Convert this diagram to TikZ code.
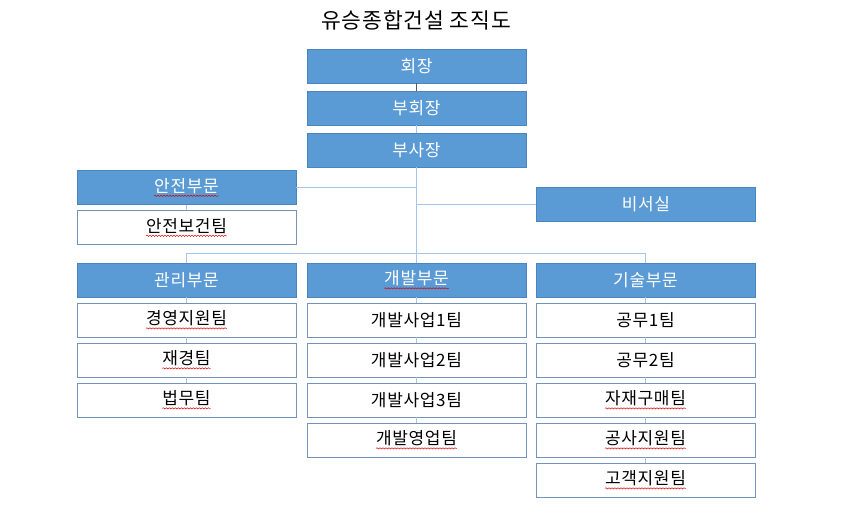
\documentclass[tikz,border=0pt]{standalone}
\usepackage{fontspec}
\setmainfont[LetterSpace=4]{Noto Sans CJK KR}
\usetikzlibrary{decorations.pathmorphing}
\definecolor{boxblue}{HTML}{5B9BD5}
\definecolor{boxedge}{HTML}{4A85C0}
\definecolor{teamedge}{HTML}{7393B8}
\definecolor{linkblue}{HTML}{A7C5E8}
\definecolor{linkgray}{HTML}{5A5A5A}
\newcommand{\sqg}[1]{\tikz[baseline=(sqgtxt.base)]{\node[draw=none,fill=none,inner sep=0pt,outer sep=0pt,minimum width=0pt,minimum height=0pt] (sqgtxt) {#1};
  \draw[red!85!black,line width=0.5pt,decorate,decoration={snake,segment length=3pt,amplitude=0.6pt}] ([yshift=-3.5pt]sqgtxt.base west) -- ([yshift=-3.5pt]sqgtxt.base east);}}
\begin{document}
\begin{tikzpicture}[x=1pt,y=-1pt,
  headbox/.style={draw=boxedge,line width=0.8pt,fill=boxblue,text=white,minimum width=219pt,minimum height=34pt,inner sep=0pt,font=\fontsize{17}{20}\selectfont},
  teambox/.style={draw=teamedge,line width=0.8pt,fill=white,text=black,minimum width=219pt,minimum height=34pt,inner sep=0pt,font=\fontsize{17}{20}\selectfont},
  link/.style={draw=linkblue,line width=0.9pt},
  darklink/.style={draw=linkgray,line width=0.9pt}]
\useasboundingbox (0,0) rectangle (860,516);
\node[font=\fontsize{21.5}{25}\selectfont] (title) at (416,20) {유승종합건설 조직도};
% top chain
\node[headbox] (hoejang) at (416.5,66) {회장};
\node[headbox] (buhoejang) at (416.5,108) {부회장};
\node[headbox] (busajang) at (416.5,150) {부사장};
% safety
\node[headbox] (anjeon) at (186.5,187.5) {\sqg{안전부문}};
\node[teambox] (anjeonbogeon) at (186.5,227.5) {\sqg{안전보건팀}};
% secretary
\node[headbox] (biseo) at (646,204) {비서실};
% divisions
\node[headbox] (gwanri) at (186.5,280) {관리부문};
\node[headbox] (gaebal) at (416.5,280) {\sqg{개발부문}};
\node[headbox] (gisul) at (645.5,280) {기술부문};
% management teams
\node[teambox] (gw1) at (186.5,320) {\sqg{경영지원팀}};
\node[teambox] (gw2) at (186.5,360) {\sqg{재경팀}};
\node[teambox] (gw3) at (186.5,400) {\sqg{법무팀}};
% development teams
\node[teambox] (gb1) at (416.5,320) {개발사업1팀};
\node[teambox] (gb2) at (416.5,360) {개발사업2팀};
\node[teambox] (gb3) at (416.5,400) {개발사업3팀};
\node[teambox] (gb4) at (416.5,440) {\sqg{개발영업팀}};
% tech teams
\node[teambox] (gs1) at (645.5,320) {공무1팀};
\node[teambox] (gs2) at (645.5,360) {공무2팀};
\node[teambox] (gs3) at (645.5,400) {\sqg{자재구매팀}};
\node[teambox] (gs4) at (645.5,440) {\sqg{공사지원팀}};
\node[teambox] (gs5) at (645.5,480) {\sqg{고객지원팀}};
% connectors
\draw[darklink] (hoejang.south) -- (buhoejang.north);
\draw[link] (buhoejang.south) -- (busajang.north);
\draw[link] (busajang.south) -- (gaebal.north);
\draw[link] (anjeon.east) -- (anjeon.east -| busajang.south);
\draw[link] (biseo.west) -- (biseo.west -| busajang.south);
\draw[link] (anjeon.south) -- (anjeonbogeon.north);
\draw[link] (gwanri.north) -- ++(0,-9) -| (gisul.north);
\draw[link] (gwanri.south) -- (gw1.north);
\draw[link] (gw1.south) -- (gw2.north);
\draw[link] (gw2.south) -- (gw3.north);
\draw[link] (gaebal.south) -- (gb1.north);
\draw[link] (gb1.south) -- (gb2.north);
\draw[link] (gb2.south) -- (gb3.north);
\draw[link] (gb3.south) -- (gb4.north);
\draw[link] (gisul.south) -- (gs1.north);
\draw[link] (gs1.south) -- (gs2.north);
\draw[link] (gs2.south) -- (gs3.north);
\draw[link] (gs3.south) -- (gs4.north);
\draw[link] (gs4.south) -- (gs5.north);
\end{tikzpicture}
\end{document}
